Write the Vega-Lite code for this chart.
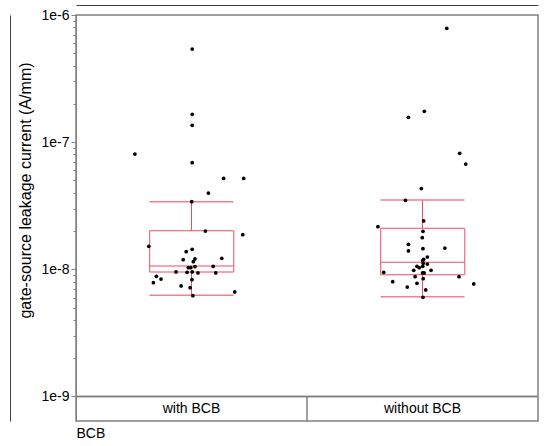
{
  "$schema": "https://vega.github.io/schema/vega-lite/v6.json",
  "width": 462,
  "height": 406,
  "autosize": "none",
  "padding": {"left": 76, "top": 15, "right": 12, "bottom": 25},
  "background": "white",
  "config": {
    "font": "Liberation Sans",
    "view": {"stroke": "#808080", "strokeWidth": 1.5},
    "axis": {
      "labelFont": "Liberation Sans",
      "titleFont": "Liberation Sans",
      "labelFontSize": 14,
      "titleFontSize": 14,
      "labelColor": "#000000",
      "titleColor": "#000000",
      "titleFontWeight": "normal",
      "domainColor": "#808080",
      "tickColor": "#808080",
      "grid": false
    }
  },
  "datasets": {
    "pts": [
      {"g": "with BCB", "j": 0.503, "v": 5.40e-7},
      {"g": "with BCB", "j": 0.503, "v": 1.656e-7},
      {"g": "with BCB", "j": 0.503, "v": 1.358e-7},
      {"g": "with BCB", "j": 0.255, "v": 8.07e-8},
      {"g": "with BCB", "j": 0.503, "v": 6.90e-8},
      {"g": "with BCB", "j": 0.639, "v": 5.19e-8},
      {"g": "with BCB", "j": 0.726, "v": 5.19e-8},
      {"g": "with BCB", "j": 0.573, "v": 3.98e-8},
      {"g": "with BCB", "j": 0.501, "v": 3.40e-8},
      {"g": "with BCB", "j": 0.560, "v": 2.00e-8},
      {"g": "with BCB", "j": 0.722, "v": 1.873e-8},
      {"g": "with BCB", "j": 0.315, "v": 1.517e-8},
      {"g": "with BCB", "j": 0.477, "v": 1.376e-8},
      {"g": "with BCB", "j": 0.503, "v": 1.437e-8},
      {"g": "with BCB", "j": 0.631, "v": 1.221e-8},
      {"g": "with BCB", "j": 0.464, "v": 1.191e-8},
      {"g": "with BCB", "j": 0.515, "v": 1.206e-8},
      {"g": "with BCB", "j": 0.508, "v": 1.148e-8},
      {"g": "with BCB", "j": 0.594, "v": 1.056e-8},
      {"g": "with BCB", "j": 0.486, "v": 1.030e-8},
      {"g": "with BCB", "j": 0.497, "v": 1.030e-8},
      {"g": "with BCB", "j": 0.515, "v": 1.049e-8},
      {"g": "with BCB", "j": 0.433, "v": 9.53e-9},
      {"g": "with BCB", "j": 0.481, "v": 9.48e-9},
      {"g": "with BCB", "j": 0.503, "v": 9.53e-9},
      {"g": "with BCB", "j": 0.528, "v": 9.36e-9},
      {"g": "with BCB", "j": 0.605, "v": 9.36e-9},
      {"g": "with BCB", "j": 0.348, "v": 8.82e-9},
      {"g": "with BCB", "j": 0.368, "v": 8.39e-9},
      {"g": "with BCB", "j": 0.335, "v": 7.85e-9},
      {"g": "with BCB", "j": 0.502, "v": 8.29e-9},
      {"g": "with BCB", "j": 0.455, "v": 7.40e-9},
      {"g": "with BCB", "j": 0.494, "v": 7.17e-9},
      {"g": "with BCB", "j": 0.687, "v": 6.64e-9},
      {"g": "with BCB", "j": 0.506, "v": 6.21e-9},
      {"g": "without BCB", "j": 0.605, "v": 7.86e-7},
      {"g": "without BCB", "j": 0.508, "v": 1.749e-7},
      {"g": "without BCB", "j": 0.439, "v": 1.569e-7},
      {"g": "without BCB", "j": 0.661, "v": 8.17e-8},
      {"g": "without BCB", "j": 0.687, "v": 6.73e-8},
      {"g": "without BCB", "j": 0.495, "v": 4.32e-8},
      {"g": "without BCB", "j": 0.426, "v": 3.49e-8},
      {"g": "without BCB", "j": 0.505, "v": 2.40e-8},
      {"g": "without BCB", "j": 0.307, "v": 2.164e-8},
      {"g": "without BCB", "j": 0.502, "v": 1.991e-8},
      {"g": "without BCB", "j": 0.499, "v": 1.773e-8},
      {"g": "without BCB", "j": 0.439, "v": 1.573e-8},
      {"g": "without BCB", "j": 0.439, "v": 1.394e-8},
      {"g": "without BCB", "j": 0.502, "v": 1.453e-8},
      {"g": "without BCB", "j": 0.597, "v": 1.471e-8},
      {"g": "without BCB", "j": 0.521, "v": 1.250e-8},
      {"g": "without BCB", "j": 0.505, "v": 1.199e-8},
      {"g": "without BCB", "j": 0.501, "v": 1.169e-8},
      {"g": "without BCB", "j": 0.521, "v": 1.101e-8},
      {"g": "without BCB", "j": 0.503, "v": 1.115e-8},
      {"g": "without BCB", "j": 0.476, "v": 1.056e-8},
      {"g": "without BCB", "j": 0.486, "v": 1.030e-8},
      {"g": "without BCB", "j": 0.501, "v": 1.056e-8},
      {"g": "without BCB", "j": 0.462, "v": 9.83e-9},
      {"g": "without BCB", "j": 0.537, "v": 9.83e-9},
      {"g": "without BCB", "j": 0.332, "v": 9.48e-9},
      {"g": "without BCB", "j": 0.500, "v": 9.36e-9},
      {"g": "without BCB", "j": 0.507, "v": 9.36e-9},
      {"g": "without BCB", "j": 0.468, "v": 8.75e-9},
      {"g": "without BCB", "j": 0.658, "v": 8.75e-9},
      {"g": "without BCB", "j": 0.503, "v": 8.44e-9},
      {"g": "without BCB", "j": 0.371, "v": 7.99e-9},
      {"g": "without BCB", "j": 0.476, "v": 7.77e-9},
      {"g": "without BCB", "j": 0.722, "v": 7.67e-9},
      {"g": "without BCB", "j": 0.434, "v": 7.26e-9},
      {"g": "without BCB", "j": 0.514, "v": 6.88e-9},
      {"g": "without BCB", "j": 0.502, "v": 6.03e-9}
    ],
    "box": [
      {"g": "with BCB", "lo": 6.25e-9, "q1": 9.53e-9, "med": 1.062e-8, "q3": 2.01e-8, "hi": 3.40e-8},
      {"g": "without BCB", "lo": 6.09e-9, "q1": 9.08e-9, "med": 1.136e-8, "q3": 2.10e-8, "hi": 3.51e-8}
    ],
    "cats": [
      {"g": "with BCB"},
      {"g": "without BCB"}
    ]
  },
  "resolve": {"axis": {"x": "independent", "y": "independent"}},
  "layer": [
    {
      "data": {"name": "box"},
      "mark": {"type": "rule", "color": "#f04c5f", "strokeWidth": 1},
      "encoding": {
        "x": {
          "field": "g", "type": "nominal",
          "scale": {"paddingInner": 0, "paddingOuter": 0},
          "axis": {"orient": "bottom", "labels": false, "ticks": false, "domain": false, "title": "BCB", "titleAnchor": "start", "titleAlign": "left", "titlePadding": 5}
        },
        "y": {
          "field": "q3", "type": "quantitative",
          "scale": {"type": "log", "domain": [6.416e-10, 1e-6], "nice": false},
          "axis": {
            "orient": "left",
            "values": [1e-9, 1e-8, 1e-7, 1e-6],
            "labelExpr": "'1e' + round(log(datum.value) / LN10)",
            "tickSize": 5,
            "labelPadding": 2,
            "title": "gate-source leakage current (A/mm)",
            "titleFontSize": 16,
            "titleY": 175,
            "titlePadding": 7
          }
        },
        "y2": {"field": "hi"}
      }
    },
    {
      "data": {"name": "box"},
      "mark": {"type": "rule", "color": "#f04c5f", "strokeWidth": 1},
      "encoding": {
        "x": {"field": "g", "type": "nominal", "axis": null},
        "y": {"field": "lo", "type": "quantitative", "axis": null},
        "y2": {"field": "q1"}
      }
    },
    {
      "data": {"name": "box"},
      "mark": {"type": "rule", "color": "#f04c5f", "strokeWidth": 1},
      "encoding": {
        "x": {"field": "g", "type": "nominal", "axis": null},
        "xOffset": {"datum": 0.319, "type": "quantitative"},
        "y": {"field": "q1", "type": "quantitative", "axis": null},
        "y2": {"field": "q3"}
      }
    },
    {
      "data": {"name": "box"},
      "mark": {"type": "rule", "color": "#f04c5f", "strokeWidth": 1},
      "encoding": {
        "x": {"field": "g", "type": "nominal", "axis": null},
        "xOffset": {"datum": 0.683, "type": "quantitative"},
        "y": {"field": "q1", "type": "quantitative", "axis": null},
        "y2": {"field": "q3"}
      }
    },
    {
      "data": {"name": "box"},
      "mark": {"type": "tick", "orient": "horizontal", "size": 84, "thickness": 1, "color": "#f04c5f", "opacity": 1},
      "encoding": {
        "x": {"field": "g", "type": "nominal", "axis": null},
        "y": {"field": "q1", "type": "quantitative", "axis": null}
      }
    },
    {
      "data": {"name": "box"},
      "mark": {"type": "tick", "orient": "horizontal", "size": 84, "thickness": 1, "color": "#f04c5f", "opacity": 1},
      "encoding": {
        "x": {"field": "g", "type": "nominal", "axis": null},
        "y": {"field": "q3", "type": "quantitative", "axis": null}
      }
    },
    {
      "data": {"name": "box"},
      "mark": {"type": "tick", "orient": "horizontal", "size": 84, "thickness": 1, "color": "#f04c5f", "opacity": 1},
      "encoding": {
        "x": {"field": "g", "type": "nominal", "axis": null},
        "y": {"field": "med", "type": "quantitative", "axis": null}
      }
    },
    {
      "data": {"name": "box"},
      "mark": {"type": "tick", "orient": "horizontal", "size": 84, "thickness": 1.5, "color": "#f37f8c", "opacity": 1},
      "encoding": {
        "x": {"field": "g", "type": "nominal", "axis": null},
        "y": {"field": "hi", "type": "quantitative", "axis": null}
      }
    },
    {
      "data": {"name": "box"},
      "mark": {"type": "tick", "orient": "horizontal", "size": 84, "thickness": 1.5, "color": "#f37f8c", "opacity": 1},
      "encoding": {
        "x": {"field": "g", "type": "nominal", "axis": null},
        "y": {"field": "lo", "type": "quantitative", "axis": null}
      }
    },
    {
      "data": {"name": "pts"},
      "mark": {"type": "circle", "size": 14, "color": "#000000", "opacity": 1},
      "encoding": {
        "x": {"field": "g", "type": "nominal", "axis": null},
        "xOffset": {"field": "j", "type": "quantitative", "scale": {"domain": [0, 1], "range": [0, 231]}},
        "y": {"field": "v", "type": "quantitative", "axis": null}
      }
    },
    {
      "data": {"name": "cats"},
      "mark": {"type": "rule", "color": "#808080", "strokeWidth": 1.5},
      "encoding": {
        "y": {
          "datum": 1e-9, "type": "quantitative",
          "axis": {
            "orient": "left",
            "values": [2e-9, 3e-9, 4e-9, 5e-9, 6e-9, 7e-9, 8e-9, 9e-9, 2e-8, 3e-8, 4e-8, 5e-8, 6e-8, 7e-8, 8e-8, 9e-8, 2e-7, 3e-7, 4e-7, 5e-7, 6e-7, 7e-7, 8e-7, 9e-7],
            "labels": false, "domain": false, "tickSize": 3, "title": null
          }
        }
      }
    },
    {
      "data": {"name": "cats"},
      "transform": [{"filter": "datum.g === 'with BCB'"}],
      "mark": {"type": "rule", "color": "#808080", "strokeWidth": 1.5},
      "encoding": {
        "x": {"field": "g", "type": "nominal", "bandPosition": 1, "axis": null},
        "y": {
          "datum": 1e-9, "type": "quantitative",
          "axis": {"orient": "left", "offset": 66, "labels": false, "ticks": false, "domain": true, "domainColor": "#404040", "domainWidth": 1, "title": null}
        },
        "y2": {"datum": 6.416e-10}
      }
    },
    {
      "data": {"name": "cats"},
      "mark": {"type": "text", "fontSize": 14, "font": "Liberation Sans", "color": "#000000", "baseline": "middle", "align": "center"},
      "encoding": {
        "x": {
          "field": "g", "type": "nominal",
          "axis": {"orient": "top", "offset": 10, "labels": false, "ticks": false, "domain": true, "domainColor": "#404040", "domainWidth": 1, "title": null}
        },
        "y": {"datum": 8.01e-10, "type": "quantitative", "axis": null},
        "text": {"field": "g"}
      }
    }
  ]
}
